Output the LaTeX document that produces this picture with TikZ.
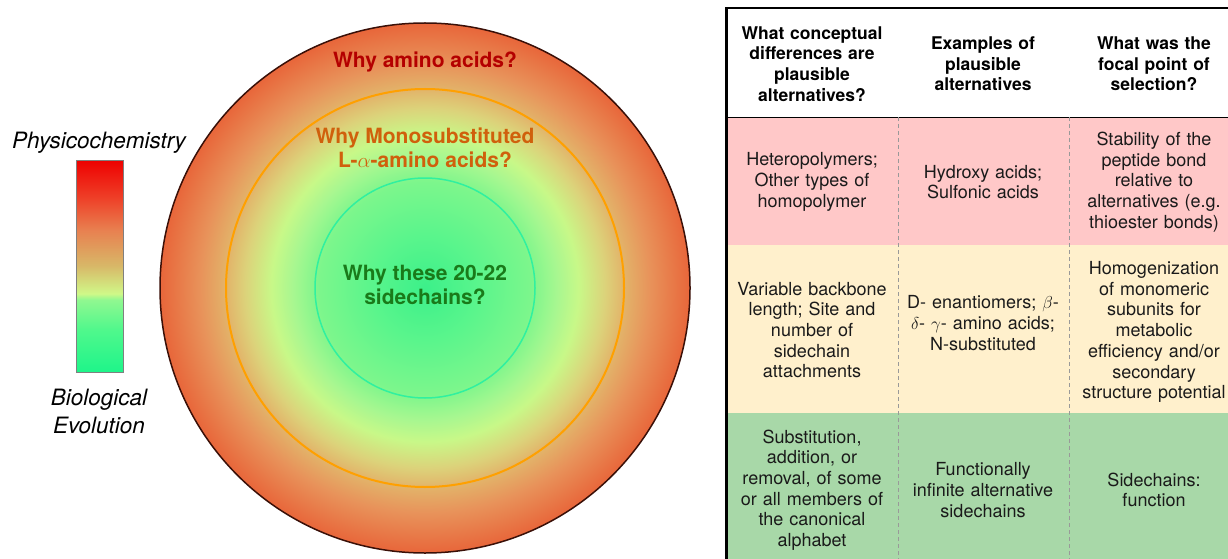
\documentclass[tikz,border=0pt]{standalone}
\usepackage{fontspec}
\setmainfont{TeX Gyre Heros}
\usetikzlibrary{positioning}

\definecolor{centregreen}{HTML}{3CF08A}
\definecolor{ringorange}{HTML}{FFA000}
\definecolor{ringgreen}{HTML}{30F0A0}
\definecolor{outerline}{HTML}{3A1008}
\definecolor{aminored}{HTML}{B40000}
\definecolor{monobrown}{HTML}{D0600C}
\definecolor{sidegreen}{HTML}{1A7A1A}
\definecolor{pinkrow}{HTML}{FFC8C8}
\definecolor{creamrow}{HTML}{FFF0CC}
\definecolor{greenrow}{HTML}{A8D8A8}
\definecolor{textgrey}{HTML}{1A1A1A}

\pgfdeclareradialshading{ringshade}{\pgfpoint{0bp}{0bp}}{%
  color(0bp)=(centregreen);
  color(5bp)=(rgb,255:red,90;green,245;blue,140);
  color(10bp)=(rgb,255:red,124;green,246;blue,140);
  color(12.5bp)=(rgb,255:red,168;green,247;blue,144);
  color(14.5bp)=(rgb,255:red,200;green,248;blue,136);
  color(17bp)=(rgb,255:red,220;green,210;blue,122);
  color(18.75bp)=(rgb,255:red,226;green,180;blue,106);
  color(21.25bp)=(rgb,255:red,232;green,146;blue,90);
  color(25bp)=(rgb,255:red,232;green,102;blue,58);
  color(50bp)=(rgb,255:red,232;green,102;blue,58)}

\pgfdeclareverticalshading{barshade}{100bp}{%
  color(0bp)=(rgb,255:red,30;green,245;blue,138);
  color(25bp)=(rgb,255:red,30;green,245;blue,138);
  color(35bp)=(rgb,255:red,80;green,248;blue,140);
  color(42bp)=(rgb,255:red,144;green,248;blue,144);
  color(43.5bp)=(rgb,255:red,208;green,248;blue,136);
  color(50bp)=(rgb,255:red,216;green,184;blue,104);
  color(58.5bp)=(rgb,255:red,232;green,128;blue,80);
  color(66bp)=(rgb,255:red,238;green,64;blue,40);
  color(75bp)=(rgb,255:red,238;green,0;blue,0);
  color(100bp)=(rgb,255:red,238;green,0;blue,0)}

\begin{document}
\begin{tikzpicture}[x=1pt, y=-1pt,
    cell/.style={text width=170pt, align=center, inner sep=0pt, text=textgrey,
      font=\fontsize{18}{20.7}\selectfont},
    headcell/.style={cell, text=black, font=\fontsize{17.5}{20.7}\selectfont\bfseries},
    ringlabel/.style={align=center, inner sep=0pt, font=\fontsize{21}{23.5}\selectfont\bfseries},
    scalelabel/.style={align=center, inner sep=0pt, font=\fontsize{22.5}{28}\selectfont\itshape},
    rule/.style={gray!80, line width=0.8pt, dash pattern=on 4pt off 3pt}]
  \useasboundingbox (0,0) rectangle (1228,559);

  % Colour scale
  \node (bar) at (100,266) [draw=gray, line width=1pt, minimum width=47pt, minimum height=212pt,
    inner sep=0pt, shade, shading=barshade] {};
  \node (phys) at (99,143) [scalelabel] {Physicochemistry};
  \node (evol) at (99,411) [scalelabel] {Biological\\Evolution};

  % Rings
  \node (outer)  at (425,288) [circle, draw=outerline, line width=1.5pt, minimum size=530pt,
    inner sep=0pt, shade, shading=ringshade] {};
  \node (middle) at (425,288) [circle, draw=ringorange, line width=2pt, minimum size=398pt, inner sep=0pt] {};
  \node (inner)  at (425,288) [circle, draw=ringgreen, line width=1.5pt, minimum size=220pt, inner sep=0pt] {};
  \node (amino) at (425,62)  [ringlabel, text=aminored] {Why amino acids?};
  \node (mono)  at (425,148) [ringlabel, text=monobrown] {Why Monosubstituted\\L-$\alpha$-amino acids?};
  \node (side)  at (425,285) [ringlabel, text=sidegreen] {Why these 20-22\\sidechains?};

  % Table
  \fill[pinkrow]  (726,117) rectangle (1240,245);
  \fill[creamrow] (726,245) rectangle (1240,413);
  \fill[greenrow] (726,413) rectangle (1240,570);
  \draw[line width=0.6pt] (726,117) -- (1240,117);
  \draw[rule] (898,117) -- (898,570);
  \draw[rule] (1069,117) -- (1069,570);
  \draw[line width=2pt] (726,8) -- (1240,8);
  \draw[line width=3pt] (726,570) -- (726,7);

  \node (h1) at (812,64) [headcell] {What conceptual\\differences are\\plausible\\alternatives?};
  \node (h2) at (983,64) [headcell] {Examples of\\plausible\\alternatives};
  \node (h3) at (1154,64) [headcell] {What was the\\focal point of\\selection?};

  \node (a1) at (812,182) [cell] {Heteropolymers;\\Other types of\\homopolymer};
  \node (a2) at (983,182) [cell] {Hydroxy acids;\\Sulfonic acids};
  \node (a3) at (1154,182) [cell] {Stability of the\\peptide bond\\relative to\\alternatives (e.g.\\thioester bonds)};

  \node (b1) at (812,330) [cell] {Variable backbone\\length; Site and\\number of\\sidechain\\attachments};
  \node (b2) at (983,323) [cell] {D- enantiomers; $\beta$-\\$\delta$- $\gamma$- amino acids;\\N-substituted};
  \node (b3) at (1154,332) [cell] {Homogenization\\of monomeric\\subunits for\\metabolic\\efficiency and/or\\secondary\\structure potential};

  \node (c1) at (812,490) [cell] {Substitution,\\addition, or\\removal, of some\\or all members of\\the canonical\\alphabet};
  \node (c2) at (983,490) [cell] {Functionally\\infinite alternative\\sidechains};
  \node (c3) at (1154,490) [cell] {Sidechains:\\function};
\end{tikzpicture}
\end{document}
